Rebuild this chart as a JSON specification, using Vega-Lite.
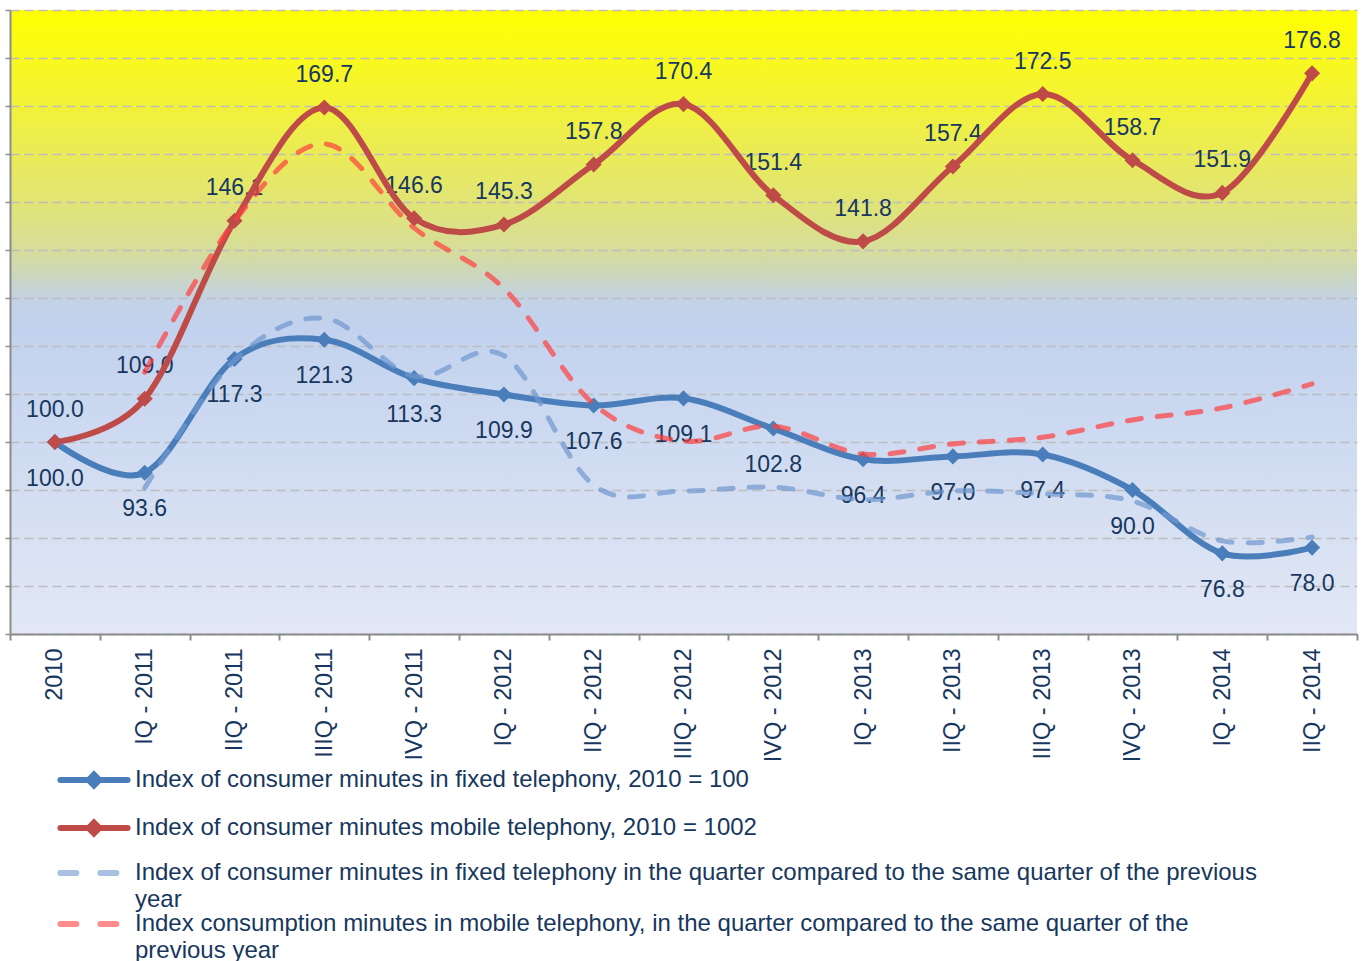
{
  "$schema": "https://vega.github.io/schema/vega-lite/v6.json",
  "width": 1347,
  "height": 624,
  "autosize": {"type": "none"},
  "padding": {"left": 10, "top": 10, "right": 5, "bottom": 327},
  "background": "white",
  "config": {"font": "Liberation Sans", "view": {"stroke": null}},
  "view": {
    "stroke": null,
    "fill": {
      "gradient": "linear", "x1": 0, "y1": 0, "x2": 0, "y2": 1,
      "stops": [
        {"offset": 0, "color": "#ffff00"},
        {"offset": 0.144, "color": "#f3f336"},
        {"offset": 0.30, "color": "#e2e572"},
        {"offset": 0.385, "color": "#d6dd9a"},
        {"offset": 0.43, "color": "#cad6c2"},
        {"offset": 0.465, "color": "#c3d2e6"},
        {"offset": 0.51, "color": "#c2d2ee"},
        {"offset": 1, "color": "#e2e8f5"}
      ]
    }
  },
  "data": {
    "values": [
      {"q": "2010", "s": "fixed", "v": 100.0},
      {"q": "IQ - 2011", "s": "fixed", "v": 93.6},
      {"q": "IIQ - 2011", "s": "fixed", "v": 117.3},
      {"q": "IIIQ - 2011", "s": "fixed", "v": 121.3},
      {"q": "IVQ - 2011", "s": "fixed", "v": 113.3},
      {"q": "IQ - 2012", "s": "fixed", "v": 109.9},
      {"q": "IIQ - 2012", "s": "fixed", "v": 107.6},
      {"q": "IIIQ - 2012", "s": "fixed", "v": 109.1},
      {"q": "IVQ - 2012", "s": "fixed", "v": 102.8},
      {"q": "IQ - 2013", "s": "fixed", "v": 96.4},
      {"q": "IIQ - 2013", "s": "fixed", "v": 97.0},
      {"q": "IIIQ - 2013", "s": "fixed", "v": 97.4},
      {"q": "IVQ - 2013", "s": "fixed", "v": 90.0},
      {"q": "IQ - 2014", "s": "fixed", "v": 76.8},
      {"q": "IIQ - 2014", "s": "fixed", "v": 78.0},
      {"q": "2010", "s": "mobile", "v": 100.0},
      {"q": "IQ - 2011", "s": "mobile", "v": 109.0},
      {"q": "IIQ - 2011", "s": "mobile", "v": 146.1},
      {"q": "IIIQ - 2011", "s": "mobile", "v": 169.7},
      {"q": "IVQ - 2011", "s": "mobile", "v": 146.6},
      {"q": "IQ - 2012", "s": "mobile", "v": 145.3},
      {"q": "IIQ - 2012", "s": "mobile", "v": 157.8},
      {"q": "IIIQ - 2012", "s": "mobile", "v": 170.4},
      {"q": "IVQ - 2012", "s": "mobile", "v": 151.4},
      {"q": "IQ - 2013", "s": "mobile", "v": 141.8},
      {"q": "IIQ - 2013", "s": "mobile", "v": 157.4},
      {"q": "IIIQ - 2013", "s": "mobile", "v": 172.5},
      {"q": "IVQ - 2013", "s": "mobile", "v": 158.7},
      {"q": "IQ - 2014", "s": "mobile", "v": 151.9},
      {"q": "IIQ - 2014", "s": "mobile", "v": 176.8},
      {"q": "IQ - 2011", "s": "fixedYoY", "v": 90.4},
      {"q": "IIQ - 2011", "s": "fixedYoY", "v": 117.0},
      {"q": "IIIQ - 2011", "s": "fixedYoY", "v": 125.8},
      {"q": "IVQ - 2011", "s": "fixedYoY", "v": 113.7},
      {"q": "IQ - 2012", "s": "fixedYoY", "v": 118.0},
      {"q": "IIQ - 2012", "s": "fixedYoY", "v": 91.0},
      {"q": "IIIQ - 2012", "s": "fixedYoY", "v": 89.8},
      {"q": "IVQ - 2012", "s": "fixedYoY", "v": 90.6},
      {"q": "IQ - 2013", "s": "fixedYoY", "v": 88.0},
      {"q": "IIQ - 2013", "s": "fixedYoY", "v": 89.8},
      {"q": "IIIQ - 2013", "s": "fixedYoY", "v": 89.2},
      {"q": "IVQ - 2013", "s": "fixedYoY", "v": 87.7},
      {"q": "IQ - 2014", "s": "fixedYoY", "v": 79.4},
      {"q": "IIQ - 2014", "s": "fixedYoY", "v": 80.2},
      {"q": "IQ - 2011", "s": "mobileYoY", "v": 114.5},
      {"q": "IIQ - 2011", "s": "mobileYoY", "v": 146.0},
      {"q": "IIIQ - 2011", "s": "mobileYoY", "v": 162.1},
      {"q": "IVQ - 2011", "s": "mobileYoY", "v": 144.6},
      {"q": "IQ - 2012", "s": "mobileYoY", "v": 132.0},
      {"q": "IIQ - 2012", "s": "mobileYoY", "v": 107.9},
      {"q": "IIIQ - 2012", "s": "mobileYoY", "v": 100.2},
      {"q": "IVQ - 2012", "s": "mobileYoY", "v": 103.3},
      {"q": "IQ - 2013", "s": "mobileYoY", "v": 97.5},
      {"q": "IIQ - 2013", "s": "mobileYoY", "v": 99.6},
      {"q": "IIIQ - 2013", "s": "mobileYoY", "v": 101.0},
      {"q": "IVQ - 2013", "s": "mobileYoY", "v": 104.6},
      {"q": "IQ - 2014", "s": "mobileYoY", "v": 107.1},
      {"q": "IIQ - 2014", "s": "mobileYoY", "v": 112.1}
    ]
  },
  "encoding": {
    "x": {
      "field": "q", "type": "ordinal", "bandPosition": 0.5,
      "scale": {
        "type": "band", "paddingInner": 0, "paddingOuter": 0,
        "domain": ["2010", "IQ - 2011", "IIQ - 2011", "IIIQ - 2011", "IVQ - 2011", "IQ - 2012", "IIQ - 2012", "IIIQ - 2012", "IVQ - 2012", "IQ - 2013", "IIQ - 2013", "IIIQ - 2013", "IVQ - 2013", "IQ - 2014", "IIQ - 2014"]
      },
      "axis": {
        "title": null, "labelAngle": 270, "labelFontSize": 23.5, "labelColor": "#17375e",
        "labelPadding": 8, "tickBand": "extent", "tickSize": 6, "tickColor": "#8c8c8c",
        "tickWidth": 2, "domainColor": "#8c8c8c", "domainWidth": 2, "grid": false
      }
    },
    "y": {
      "field": "v", "type": "quantitative",
      "scale": {"domain": [60, 190], "nice": false, "zero": false},
      "axis": {
        "title": null, "labels": false, "ticks": true, "tickSize": 5, "tickColor": "#8c8c8c",
        "tickWidth": 1.5, "domainColor": "#8c8c8c", "domainWidth": 2, "grid": true,
        "gridDash": [9, 5], "gridColor": "#bdbdbd", "gridWidth": 1.3,
        "values": [60, 70, 80, 90, 100, 110, 120, 130, 140, 150, 160, 170, 180, 190]
      }
    }
  },
  "layer": [
    {
      "transform": [{"filter": "datum.s == 'mobile'"}],
      "mark": {"type": "text", "fontSize": 23, "dy": -32.5, "font": "Liberation Sans", "color": "#17375e"},
      "encoding": {"text": {"field": "v", "type": "quantitative", "format": ".1f"}}
    },
    {
      "transform": [{"filter": "datum.s == 'fixed'"}],
      "mark": {"type": "text", "fontSize": 23, "dy": 36.5, "font": "Liberation Sans", "color": "#17375e"},
      "encoding": {"text": {"field": "v", "type": "quantitative", "format": ".1f"}}
    },
    {
      "transform": [{"filter": "datum.s == 'fixed' || datum.s == 'mobile'"}],
      "mark": {"type": "line", "interpolate": "cardinal", "strokeWidth": 6, "strokeCap": "round", "strokeJoin": "round"},
      "encoding": {
        "color": {
          "field": "s", "type": "nominal",
          "scale": {"domain": ["fixed", "mobile", "fixedYoY"], "range": ["#4a7ebb", "#be4b48", "#6f97cf"]},
          "legend": {
            "orient": "none", "legendX": 69, "legendY": 755, "direction": "vertical",
            "title": null, "padding": 0, "symbolSize": 576, "symbolType": "stroke",
            "symbolStrokeWidth": 6, "labelOffset": 26, "rowPadding": 12,
            "labelFontSize": 24, "labelFont": "Liberation Sans", "labelColor": "#17375e",
            "labelLimit": 1300,
            "labelExpr": "datum.value == 'fixed' ? 'Index of consumer minutes in fixed telephony, 2010 = 100' : datum.value == 'mobile' ? 'Index of consumer minutes mobile telephony, 2010 = 1002' : ['Index of consumer minutes in fixed telephony in the quarter compared to the same quarter of the previous', 'year']",
            "encode": {
              "symbols": {
                "update": {
                  "shape": {"signal": "(datum.value == 'fixed' || datum.value == 'mobile') ? 'M-2.8,0H2.8M0,-0.45L0.45,0L0,0.45L-0.45,0Z' : 'M-2.8,0H2.8'"},
                  "fill": {"signal": "datum.value == 'fixed' ? '#4a7ebb' : datum.value == 'mobile' ? '#be4b48' : 'transparent'"},
                  "strokeDash": {"signal": "(datum.value == 'fixed' || datum.value == 'mobile') ? [1, 0] : [16, 24]"},
                  "strokeCap": {"value": "round"},
                  "strokeWidth": {"value": 6},
                  "opacity": {"signal": "(datum.value == 'fixed' || datum.value == 'mobile') ? 1 : 0.6"}
                }
              },
              "labels": {"update": {"lineHeight": {"value": 27}}}
            }
          }
        }
      }
    },
    {
      "transform": [{"filter": "datum.s == 'fixed' || datum.s == 'mobile'"}],
      "mark": {"type": "point", "shape": "diamond", "filled": true, "size": 260, "opacity": 1},
      "encoding": {
        "color": {"field": "s", "type": "nominal", "scale": {"domain": ["fixed", "mobile", "fixedYoY"], "range": ["#4a7ebb", "#be4b48", "#6f97cf"]}}
      }
    },
    {
      "transform": [{"filter": "datum.s == 'fixedYoY'"}],
      "mark": {"type": "line", "interpolate": "cardinal", "strokeWidth": 5, "strokeDash": [14, 16], "strokeCap": "round", "opacity": 0.7},
      "encoding": {
        "color": {"field": "s", "type": "nominal", "scale": {"domain": ["fixed", "mobile", "fixedYoY"], "range": ["#4a7ebb", "#be4b48", "#6f97cf"]}}
      }
    },
    {
      "transform": [{"filter": "datum.s == 'mobileYoY'"}],
      "mark": {"type": "line", "interpolate": "cardinal", "strokeWidth": 5, "strokeDash": [14, 16], "strokeCap": "round", "opacity": 0.7},
      "encoding": {
        "stroke": {
          "field": "s", "type": "nominal",
          "scale": {"domain": ["mobileYoY"], "range": ["#ff3f3f"]},
          "legend": {
            "orient": "none", "legendX": 69, "legendY": 899, "direction": "vertical",
            "title": null, "padding": 0, "symbolSize": 576, "symbolType": "M-2.8,0H2.8",
            "symbolStrokeWidth": 6, "symbolDash": [16, 24], "symbolOpacity": 0.6,
            "symbolFillColor": "transparent", "labelOffset": 26,
            "labelFontSize": 24, "labelFont": "Liberation Sans", "labelColor": "#17375e",
            "labelLimit": 1300,
            "labelExpr": "['Index consumption minutes in mobile telephony, in the quarter compared to the same quarter of the', 'previous year']",
            "encode": {
              "symbols": {
                "update": {
                  "strokeCap": {"value": "round"}
                }
              },
              "labels": {"update": {"lineHeight": {"value": 27}}}
            }
          }
        }
      }
    }
  ]
}
